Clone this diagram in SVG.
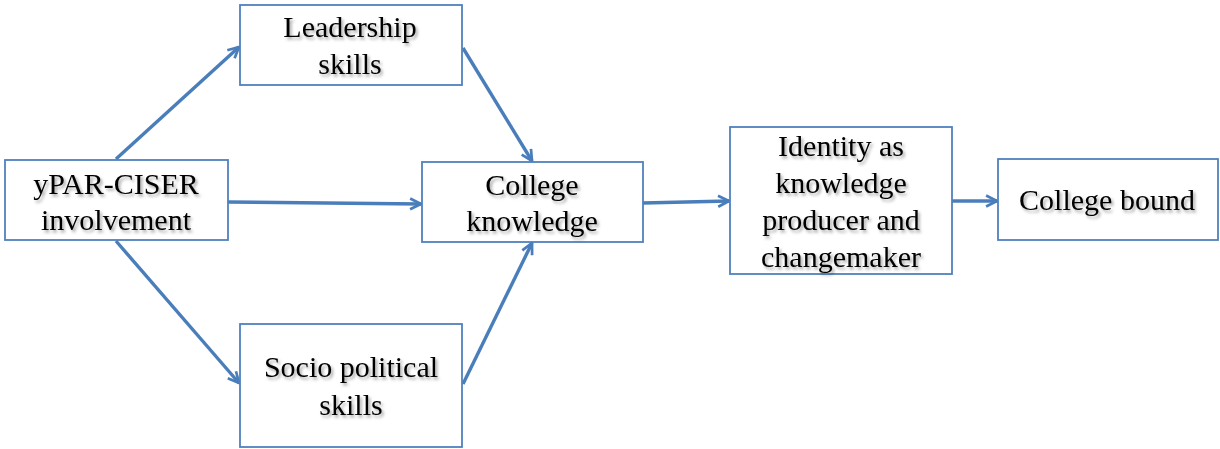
<svg xmlns="http://www.w3.org/2000/svg" width="1220" height="449" viewBox="0 0 1220 449">
  <style>
    .box { fill: #ffffff; stroke: #4f81bd; stroke-width: 1.8; }
    .lbl { font-family: "Liberation Serif", "Times New Roman", serif; font-size: 30px; fill: #000000; text-anchor: middle; filter: url(#txtShadow); }
    .edge { fill: none; stroke: #4a7ebb; stroke-width: 3.4; marker-end: url(#head); }
  </style>
  <defs>
    <filter id="txtShadow" x="-10%" y="-20%" width="130%" height="160%">
      <feDropShadow dx="2" dy="2.5" stdDeviation="1.6" flood-color="#000000" flood-opacity="0.35"/>
    </filter>
    <marker id="head" viewBox="0 0 10 10" refX="9" refY="5" markerWidth="4" markerHeight="4" orient="auto" markerUnits="strokeWidth">
      <path d="M1,1 L9,5 L1,9" fill="none" stroke="#4a7ebb" stroke-width="2" stroke-linejoin="miter"/>
    </marker>
  </defs>

  <g id="connectors">
    <line class="edge" x1="116" y1="159" x2="239" y2="47"/>
    <line class="edge" x1="228" y1="202" x2="421" y2="204"/>
    <line class="edge" x1="116" y1="241" x2="239" y2="383"/>
    <line class="edge" x1="463" y1="48" x2="532" y2="161"/>
    <line class="edge" x1="463" y1="384" x2="532" y2="243"/>
    <line class="edge" x1="643" y1="203" x2="729" y2="201"/>
    <line class="edge" x1="952" y1="201" x2="997" y2="201"/>
  </g>

  <g id="ypar">
    <rect class="box" x="5" y="160" width="223" height="80"/>
    <text class="lbl" x="116" y="194">yPAR-CISER</text>
    <text class="lbl" x="116" y="230">involvement</text>
  </g>

  <g id="leadership">
    <rect class="box" x="240" y="5" width="222" height="80"/>
    <text class="lbl" x="350" y="37">Leadership</text>
    <text class="lbl" x="350" y="74">skills</text>
  </g>

  <g id="college-knowledge">
    <rect class="box" x="422" y="162" width="221" height="80"/>
    <text class="lbl" x="532" y="195">College</text>
    <text class="lbl" x="532" y="231">knowledge</text>
  </g>

  <g id="sociopolitical">
    <rect class="box" x="240" y="324" width="222" height="123"/>
    <text class="lbl" x="351" y="377">Socio political</text>
    <text class="lbl" x="351" y="415">skills</text>
  </g>

  <g id="identity">
    <rect class="box" x="730" y="127" width="222" height="147"/>
    <text class="lbl" x="841" y="156">Identity as</text>
    <text class="lbl" x="841" y="193">knowledge</text>
    <text class="lbl" x="841" y="230">producer and</text>
    <text class="lbl" x="841" y="267">changemaker</text>
  </g>

  <g id="college-bound">
    <rect class="box" x="998" y="159" width="220" height="81"/>
    <text class="lbl" x="1107" y="210">College bound</text>
  </g>
</svg>
